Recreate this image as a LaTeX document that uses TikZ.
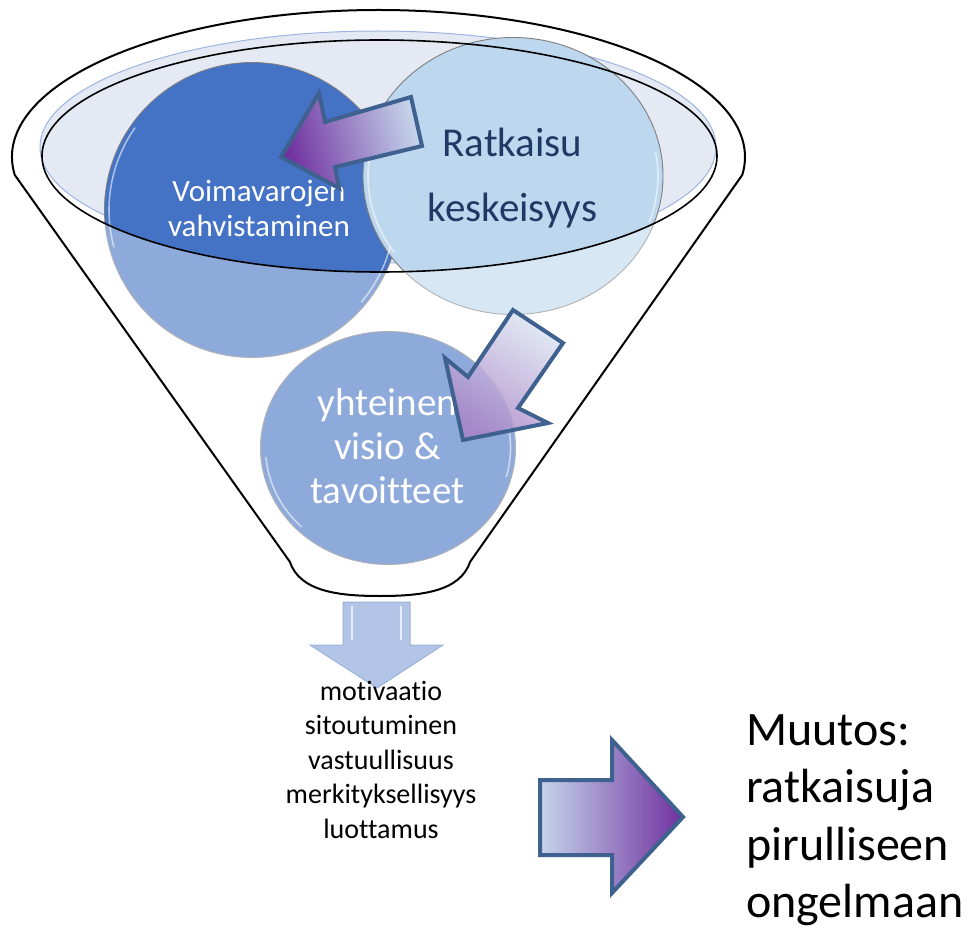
\documentclass[tikz,border=0pt]{standalone}
\usepackage{fontspec}
\setmainfont{Carlito}[Ligatures={NoCommon}]
\usetikzlibrary{calc,shapes.geometric}
\definecolor{accent}{HTML}{4472C4}
\definecolor{lightacc}{HTML}{BDD7EE}
\definecolor{palefill}{HTML}{E4E9F4}
\definecolor{paleline}{HTML}{9DB5E0}
\definecolor{arrowline}{HTML}{3F6190}
\definecolor{purp}{HTML}{7030A0}
\definecolor{midlav}{HTML}{A898CA}
\definecolor{tailblue}{HTML}{C5D5EA}
\definecolor{navy}{HTML}{203864}
\definecolor{downfill}{HTML}{B3C5E7}
\definecolor{downline}{HTML}{9DB2DA}
\definecolor{circline}{HTML}{7F7F7F}
\newcommand{\clines}[1]{\begin{tabular}[t]{@{}c@{}}#1\end{tabular}}
\newcommand{\llines}[1]{\begin{tabular}[t]{@{}l@{}}#1\end{tabular}}
\renewcommand{\arraystretch}{1}
\begin{document}
\begin{tikzpicture}[x=1pt,y=-1pt,
  circ/.style={draw=circline, line width=0.9pt, inner sep=0pt},
  blockarrow/.style={draw=arrowline, line width=4pt, line join=miter},
  hilite/.style={white, line width=1.6pt, opacity=0.55, line cap=round},
  funnelline/.style={draw=black, line width=2pt, line join=round},
  txt/.style={inner sep=0pt, anchor=base},
]
\useasboundingbox (0,0) rectangle (970,928);

\coordinate (O) at (378.5,157);
\coordinate (E) at (379.5,156);
\coordinate (P) at (378,147);

% pale surface of the funnel
\path[fill=palefill, draw=paleline, line width=1pt] (P) ellipse[x radius=338, y radius=116];

% circles
\node[circ, circle, fill=accent, minimum size=295pt] (voima) at (252,210) {};
\node[circ, ellipse, fill=lightacc, minimum width=300pt, minimum height=277pt] (ratk) at (513,176) {};
\node[circ, ellipse, fill=accent, minimum width=255pt, minimum height=233pt] (yht) at (388,448) {};

% texts in circles
\node[txt, text=white, font=\fontsize{31}{35}\selectfont] (tvoima) at (259,202) {\clines{Voimavarojen\\vahvistaminen}};
\node[txt, text=navy, font=\fontsize{41}{65}\selectfont] (tratk) at (512.5,157) {\clines{Ratkaisu\\keskeisyys}};
\node[txt, text=white, font=\fontsize{39}{44.5}\selectfont] (tyht) at (387.5,415) {\clines{yhteinen\\visio \&\\tavoitteet}};

% arrow from Ratkaisu down to yhteinen (fill, below the glass)
\path[top color=purp, middle color=midlav, bottom color=tailblue, shading angle=146.5, fill opacity=0.85]
  (513,310) -- (468,377) -- (445,358) -- (463,440) -- (548,423) -- (518,408) -- (563,343) -- cycle;

% glass of the funnel body
\fill[white, fill opacity=0.4]
  ($(E)+(180:337.5 and 116)$) arc[start angle=180, end angle=0, x radius=337.5, y radius=116]
  -- ($(O)+(7:366.5 and 147)$) -- (470,562)
  .. controls (460,592) and (420,596) .. (380,596)
  .. controls (340,596) and (300,592) .. (290,562)
  -- ($(O)+(173:366.5 and 147)$) -- cycle;

% glossy highlights
\draw[hilite] ($(voima.center)+(165:143)$) arc[start angle=165, end angle=215, radius=143];
\draw[hilite] ($(voima.center)+(15:143)$) arc[start angle=15, end angle=40, radius=143];
\draw[hilite] ($(ratk.center)+(145:145 and 133.5)$) arc[start angle=145, end angle=210, x radius=145, y radius=133.5];
\draw[hilite] ($(ratk.center)+(-10:145 and 133.5)$) arc[start angle=-10, end angle=20, x radius=145, y radius=133.5];
\draw[hilite] ($(yht.center)+(135:122.5 and 111.5)$) arc[start angle=135, end angle=175, x radius=122.5, y radius=111.5];
\draw[hilite] ($(yht.center)+(-10:122.5 and 111.5)$) arc[start angle=-10, end angle=15, x radius=122.5, y radius=111.5];

% funnel outline and surface rim
\draw[funnelline]
  ($(O)+(173:366.5 and 147)$) arc[start angle=173, end angle=367, x radius=366.5, y radius=147]
  -- (470,562)
  .. controls (460,592) and (420,596) .. (380,596)
  .. controls (340,596) and (300,592) .. (290,562) -- cycle;
\draw[black, line width=1.6pt] (E) ellipse[x radius=337.5, y radius=116];

% arrow outline (Ratkaisu -> yhteinen)
\draw[blockarrow]
  (513,310) -- (468,377) -- (445,358) -- (463,440) -- (548,423) -- (518,408) -- (563,343) -- cycle;

% arrow Ratkaisu -> Voimavarojen
\draw[blockarrow, top color=purp, middle color=midlav, bottom color=tailblue, shading angle=104.7]
  (281,157) -- (319,93) -- (325,122) -- (411,97) -- (422,146) -- (335,167) -- (339,188) -- cycle;

% down arrow under the funnel
\draw[fill=downfill, draw=downline, line width=1pt, line join=miter]
  (343,602) -- (410,602) -- (410,645) -- (443,645) -- (377,688) -- (310,645) -- (343,645) -- cycle;
\draw[white, line width=2pt, opacity=0.7] (352,606) -- (352,640);
\draw[white, line width=2pt, opacity=0.7] (401,606) -- (401,640);

% outcome text
\node[txt, text=black, font=\fontsize{28}{34.5}\selectfont] (qual) at (381,700)
  {\clines{motivaatio\\sitoutuminen\\vastuullisuus\\merkityksellisyys\\luottamus}};

% right arrow
\draw[blockarrow, left color=tailblue, middle color=midlav, right color=purp]
  (540,780) -- (612,780) -- (612,740) -- (683,817) -- (612,893) -- (612,855) -- (540,855) -- cycle;

\node[txt, anchor=base west, text=black, font=\fontsize{48}{57.5}\selectfont] (muutos) at (746,745)
  {\llines{Muutos:\\ratkaisuja\\pirulliseen\\ongelmaan}};
\end{tikzpicture}
\end{document}
